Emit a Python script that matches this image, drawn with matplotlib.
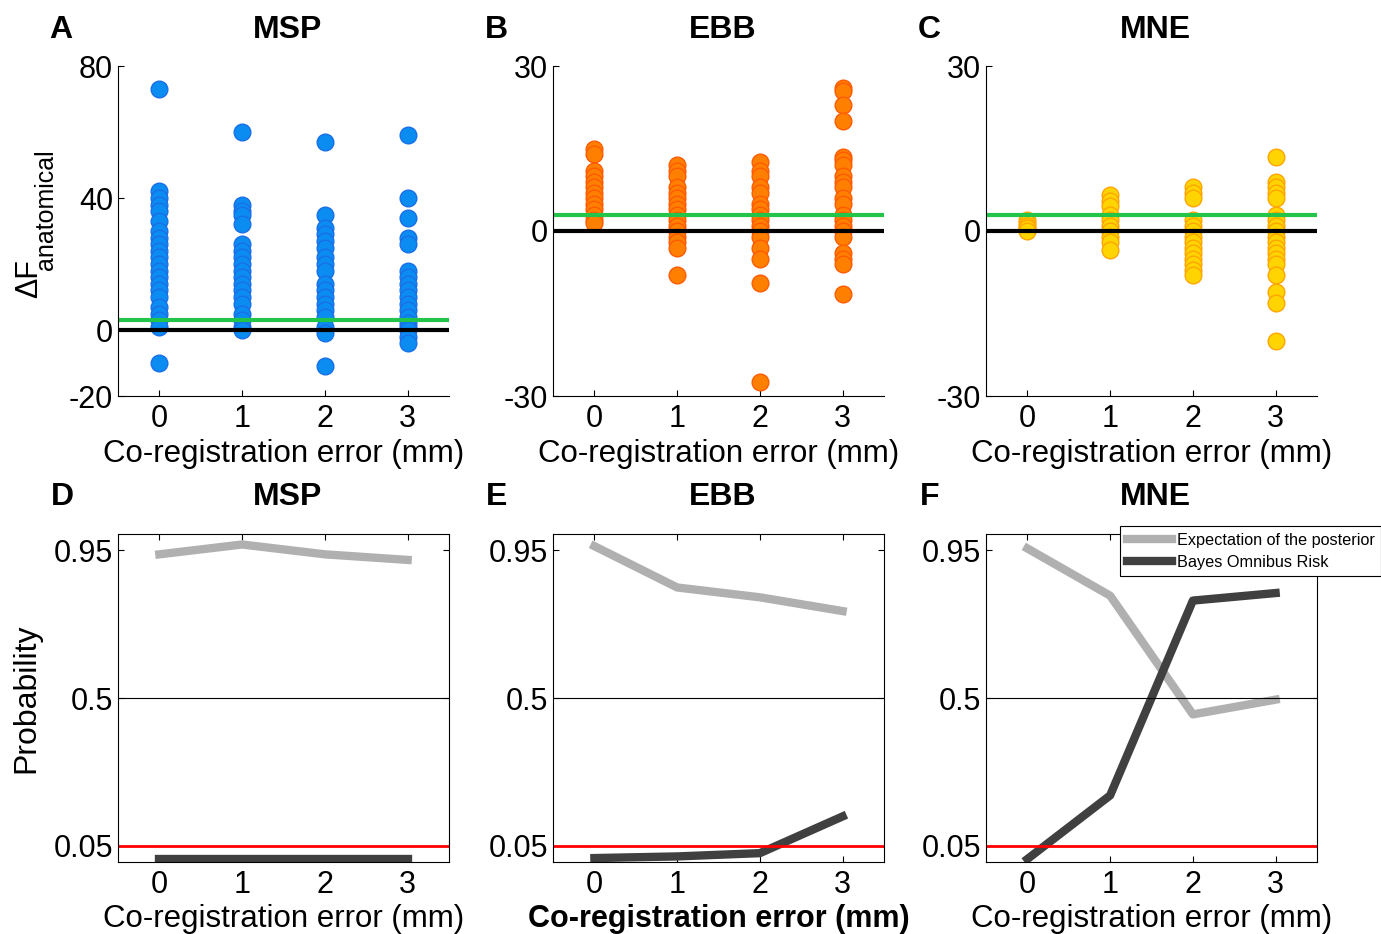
import matplotlib
matplotlib.use("Agg")
import matplotlib.pyplot as plt

plt.rcParams['font.family'] = ['Liberation Sans', 'DejaVu Sans']
plt.rcParams['axes.unicode_minus'] = False

# x positions: co-registration error (mm)
errors = [0, 1, 2, 3]

# top row: delta F anatomical per session, one list per error level
msp_df = [
    [73, 42, 40, 38, 36, 33, 30, 28, 26, 24, 22, 20, 18, 16, 14, 12, 10, 7, 5, 3, 1, -10],
    [60, 38, 36, 35, 32, 26, 24, 22, 20, 18, 16, 14, 12, 10, 8, 5, 3, 1, 0],
    [57, 35, 31, 29, 27, 25, 22, 20, 18, 14, 12, 10, 8, 6, 4, 1, -1, -11],
    [59, 40, 34, 28, 26, 18, 16, 14, 12, 10, 8, 6, 4, 2, 1, 0, -2, -4],
]
ebb_df = [
    [15, 14, 11, 10, 9, 8, 7, 6, 5, 4, 3, 2, 1.5],
    [12, 11, 10, 8, 7, 6, 5, 4, 3, 2, 1, 0, -1, -2, -3, -8],
    [12.5, 11, 10, 8, 7, 5, 4, 3, 2, 1, 0, -1, -3, -5, -9.5, -27.5],
    [26, 25.5, 23, 20, 13.5, 13, 12, 10, 9, 8, 6, 5, 3, 2, 1, 0, -1, -4, -5, -6, -11.5],
]
mne_df = [
    [2, 1.5, 1, 0.5, 0],
    [6.5, 5.5, 4.5, 3, 2, 1, 0, -1, -2, -3.5],
    [8, 7, 6, 2, 1, 0, -1, -2, -3, -4, -5, -6, -7, -8],
    [13.5, 9, 8, 7, 6, 3, 2, 1, 0, -1, -2, -3, -4, -5, -6, -8, -11, -13, -20],
]
threshold_df = 3

# bottom row: probabilities
msp_post = [0.938, 0.968, 0.938, 0.921]
msp_bor = [0.01, 0.01, 0.01, 0.01]
ebb_post = [0.963, 0.837, 0.807, 0.765]
ebb_bor = [0.012, 0.017, 0.027, 0.139]
mne_post = [0.956, 0.812, 0.45, 0.495]
mne_bor = [0.009, 0.203, 0.797, 0.82]

W, H = 1381, 934
fig = plt.figure(figsize=(W / 100, H / 100), dpi=100)

def px_axes(left, top, right, bottom):
    return fig.add_axes([left / W, 1 - bottom / H, (right - left) / W, (bottom - top) / H])

def fx(x):
    return x / W

def fy(y):
    return 1 - y / H

TICK_FS = 22
LABEL_FS = 22.5
TITLE_FS = 23

top_specs = [
    ('A', 'MSP', msp_df, (-20, 80), [-20, 0, 40, 80], '#0a8cf0', '#1a6fe8', 118),
    ('B', 'EBB', ebb_df, (-30, 30), [-30, 0, 30], '#ff8000', '#ff5a00', 553),
    ('C', 'MNE', mne_df, (-30, 30), [-30, 0, 30], '#ffd400', '#ffa500', 986),
]
for letter, name, data, ylim, yticks, face, edge, left in top_specs:
    ax = px_axes(left, 66, left + 331, 396)
    for x, vals in zip(errors, data):
        ax.plot([x] * len(vals), vals, 'o', ms=12, mfc=face, mec=edge, mew=1, ls='none')
    ax.axhline(threshold_df, color='#22c44a', lw=3)
    ax.axhline(0, color='black', lw=3)
    ax.set_xlim(-0.5, 3.5)
    ax.set_ylim(*ylim)
    ax.set_xticks(errors)
    ax.set_yticks(yticks)
    ax.spines['top'].set_visible(False)
    ax.spines['right'].set_visible(False)
    ax.tick_params(direction='in', labelsize=TICK_FS, length=4)
    ax.tick_params(axis='x', pad=6)
    ax.set_xlabel('Co-registration error (mm)', fontsize=LABEL_FS, labelpad=3.5)
    fig.text(fx(left + 331 / 2 + 4), fy(30), name, fontsize=TITLE_FS, fontweight='bold', ha='center', va='center')
    fig.text(fx(left - 57), fy(30), letter, fontsize=TITLE_FS, fontweight='bold', ha='center', va='center')

# y label of panel A: delta F with subscript
fig.text(fx(29), fy(279), '\u0394F', fontsize=22, rotation=90, ha='center', va='center')
fig.text(fx(46), fy(210), 'anatomical', fontsize=18, rotation=90, ha='center', va='center')

bottom_specs = [
    ('D', 'MSP', msp_post, msp_bor, 118, 'normal'),
    ('E', 'EBB', ebb_post, ebb_bor, 553, 'bold'),
    ('F', 'MNE', mne_post, mne_bor, 986, 'normal'),
]
for letter, name, post, bor, left, xw in bottom_specs:
    ax = px_axes(left, 534, left + 331, 862)
    ax.plot(errors, post, color='#b0b0b0', lw=6, label='Expectation of the posterior')
    ax.plot(errors, bor, color='#404040', lw=6, label='Bayes Omnibus Risk')
    ax.axhline(0.5, color='black', lw=0.8)
    ax.axhline(0.05, color='#ff0000', lw=2)
    ax.set_xlim(-0.5, 3.5)
    ax.set_ylim(0, 1)
    ax.set_xticks(errors)
    ax.set_yticks([0.05, 0.5, 0.95])
    ax.set_yticklabels(['0.05', '0.5', '0.95'])
    ax.tick_params(direction='in', labelsize=TICK_FS, length=4, top=True, right=True)
    ax.tick_params(axis='x', pad=6)
    for s in ax.spines.values():
        s.set_linewidth(0.8)
    ax.set_xlabel('Co-registration error (mm)', fontsize=LABEL_FS if xw == 'normal' else 22,
                  fontweight=xw, labelpad=2.5)
    fig.text(fx(left + 331 / 2 + 4), fy(497), name, fontsize=TITLE_FS, fontweight='bold', ha='center', va='center')
    fig.text(fx(left - 56), fy(497), letter, fontsize=TITLE_FS, fontweight='bold', ha='center', va='center')
    if letter == 'F':
        leg = ax.legend(loc='upper left', bbox_to_anchor=(fx(1120), fy(526)),
                        bbox_transform=fig.transFigure, fontsize=11.7, handlelength=2.8,
                        frameon=True, fancybox=False, borderpad=0.4, labelspacing=0.45,
                        handletextpad=0.3, borderaxespad=0, framealpha=1)
        leg.get_frame().set_edgecolor('black')
        leg.get_frame().set_linewidth(0.8)

fig.text(fx(26), fy(698), 'Probability', fontsize=23, rotation=90, ha='center', va='center')

fig.savefig('out.png', dpi=100)
